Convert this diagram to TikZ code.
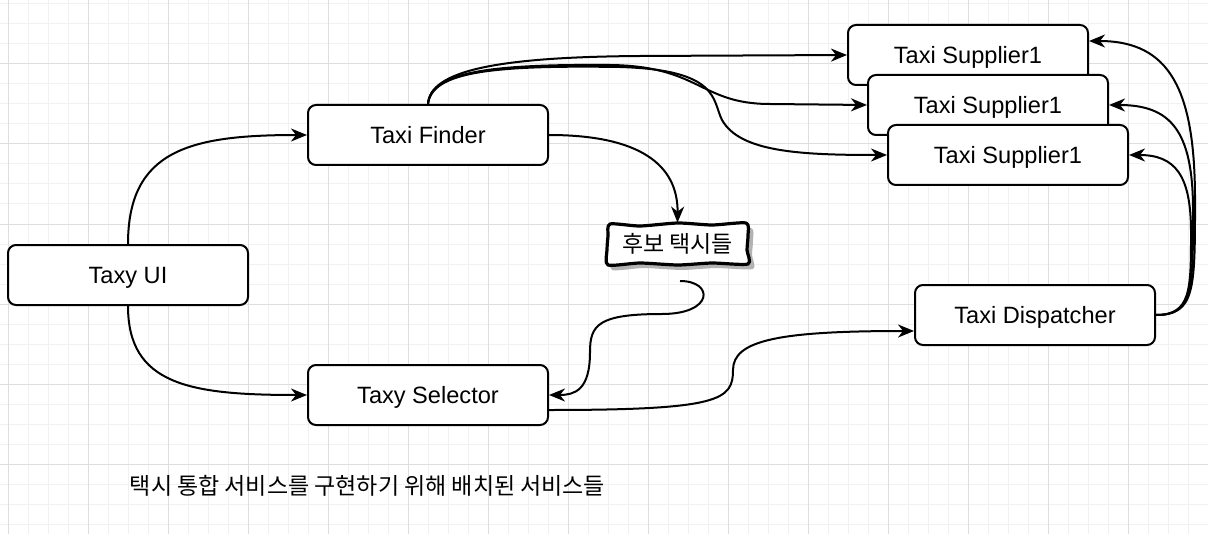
\documentclass[tikz,border=0pt]{standalone}
\usepackage{fontspec}
\setmainfont{Liberation Sans}
\newfontfamily\krfont{Noto Sans CJK KR}
\usetikzlibrary{positioning,calc,arrows.meta}
\definecolor{minorln}{HTML}{F1F1F1}
\definecolor{majorln}{HTML}{DEDEDE}
\tikzset{
  svc/.style={draw, line width=1pt, rounded corners=4pt, fill=white, minimum width=120pt, minimum height=30pt, inner sep=0pt, text height=8.45pt, text depth=0pt, font=\fontsize{11.8}{13}\selectfont},
  cand/.style={minimum width=70pt, minimum height=21pt, inner sep=0pt, font=\fontsize{11.5}{13}\selectfont\krfont},
  sketch/.style={draw, line width=1.6pt, line join=round, fill=white},
  flow/.style={line width=1pt, -{Stealth[length=8pt, width=6.5pt, inset=2.5pt]}}}

\begin{document}
\begin{tikzpicture}[x=0.5pt, y=-0.5pt]
\useasboundingbox (0,0) rectangle (1208,534);
\fill[white] (0,0) rectangle (1208,534);
\foreach \gx in {8,28,...,1208} \draw[minorln, line width=0.5pt] (\gx,0) -- (\gx,534);
\foreach \gy in {4,24,...,534} \draw[minorln, line width=0.5pt] (0,\gy) -- (1208,\gy);
\foreach \gx in {8,88,...,1208} \draw[majorln, line width=0.5pt] (\gx,0) -- (\gx,534);
\foreach \gy in {64,144,...,534} \draw[majorln, line width=0.5pt] (0,\gy) -- (1208,\gy);

\node[svc] (ui) at (128,275) {Taxy UI};
\node[svc] (finder) at (428,135) {Taxi Finder};
\node[svc] (selector) at (428,395) {Taxy Selector};
\node[svc] (sup1) at (968,55) {Taxi Supplier1};
\node[svc] (sup2) at (988,105) {Taxi Supplier1};
\node[svc] (sup3) at (1008,155) {Taxi Supplier1};
\node[svc] (disp) at (1035,315) {Taxi Dispatcher};
\fill[black!30] plot[smooth cycle, tension=0.4] coordinates {(614,229) (644,231) (682,228) (716,230) (751,228) (753,240) (752,255) (753,269) (716,268) (682,270) (644,268) (612,270) (611,255) (612,241)};
\draw[sketch] plot[smooth cycle, tension=0.4] coordinates {(610,224) (640,226) (678,223) (712,225) (746,223) (748,235) (747,250) (748,264) (712,263) (678,265) (640,263) (608,265) (607,250) (608,236)};
\node[cand] (cand) at (677.5,244) {후보 택시들};
\coordinate (candout) at (680,281);
\node[font=\fontsize{11.5}{13}\selectfont\krfont] (caption) at (367.5,486) {택시 통합 서비스를 구현하기 위해 배치된 서비스들};

\draw[flow] (ui.north) .. controls (128,150) and (190,135) .. (finder.west);
\draw[flow] (ui.south) .. controls (128,385) and (190,395) .. (selector.west);
\draw[flow] (finder.east) .. controls (640,135) and (678,165) .. (cand.north);
\draw[flow] (candout) .. controls (714,281) and (714,314) .. (662,314) .. controls (598,314) and (590,325) .. (590,352) .. controls (590,390) and (575,395) .. (selector.east);
\draw[flow] ([yshift=-7.5pt]selector.east) .. controls (720,410) and (733,400) .. (733,370) .. controls (733,340) and (780,331) .. ([yshift=-8pt]disp.west);
\draw[flow] (finder.north) .. controls (430,70) and (500,57) .. (640,56) -- (sup1.west);
\draw[flow] (finder.north) .. controls (430,72) and (490,64) .. (610,65) .. controls (700,66) and (700,104) .. (770,104) -- (sup2.west);
\draw[flow] (finder.north) .. controls (432,72) and (490,65) .. (620,67) .. controls (720,70) and (712,100) .. (722,120) .. controls (740,152) and (800,155) .. (sup3.west);
\draw[flow] (disp.east) .. controls (1195,315) and (1195,290) .. (1195,200) .. controls (1195,90) and (1170,41) .. ([yshift=7pt]sup1.east);
\draw[flow] (disp.east) .. controls (1193,315) and (1193,290) .. (1193,210) .. controls (1193,130) and (1170,105) .. (sup2.east);
\draw[flow] (disp.east) .. controls (1191,315) and (1191,290) .. (1191,232) .. controls (1191,175) and (1175,155) .. (sup3.east);
\end{tikzpicture}
\end{document}
